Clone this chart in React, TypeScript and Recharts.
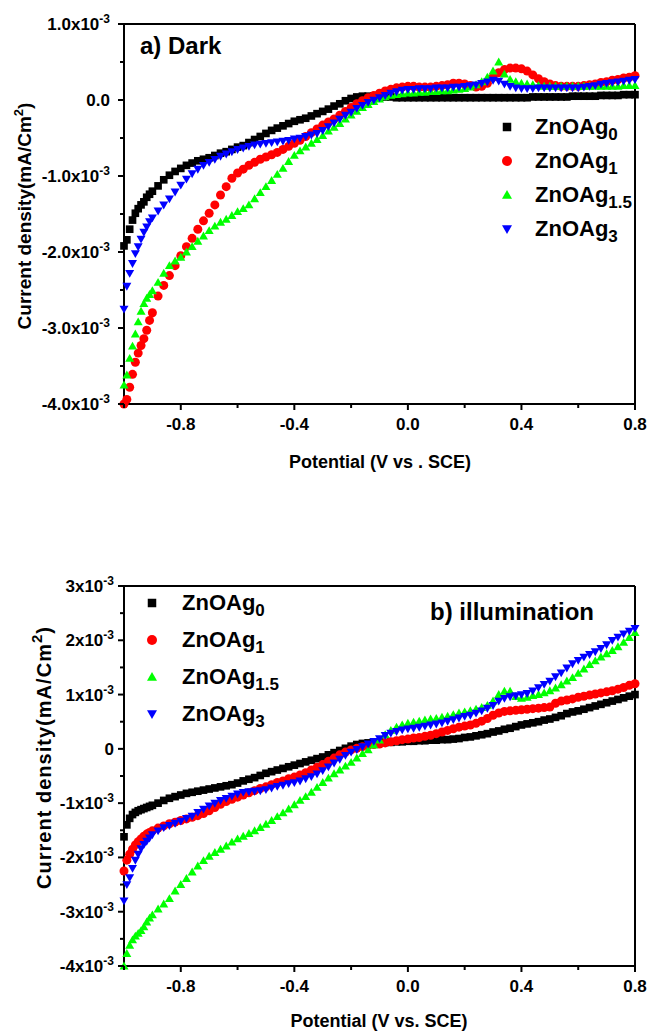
import React from 'react';
import { ScatterChart, Scatter, XAxis, YAxis, Legend } from 'recharts';

const FONT = '"Liberation Sans", Arial, Helvetica, sans-serif';

// potential (V vs SCE), shared by every curve
const potential = [
  -1.0, -0.99, -0.98, -0.97, -0.96, -0.95, -0.94, -0.93, -0.92, -0.91, -0.9,
  -0.88, -0.86, -0.84, -0.82, -0.8, -0.78, -0.76, -0.74, -0.72, -0.7,
  -0.68, -0.66, -0.64, -0.62, -0.6, -0.58, -0.56, -0.54, -0.52, -0.5,
  -0.48, -0.46, -0.44, -0.42, -0.4, -0.38, -0.36, -0.34, -0.32, -0.3,
  -0.28, -0.26, -0.24, -0.22, -0.2, -0.18, -0.16, -0.14, -0.12, -0.1,
  -0.08, -0.06, -0.04, -0.02, 0.0, 0.02, 0.04, 0.06, 0.08, 0.1,
  0.12, 0.14, 0.16, 0.18, 0.2, 0.22, 0.24, 0.26, 0.28, 0.3,
  0.32, 0.34, 0.36, 0.38, 0.4, 0.42, 0.44, 0.46, 0.48, 0.5,
  0.52, 0.54, 0.56, 0.58, 0.6, 0.62, 0.64, 0.66, 0.68, 0.7,
  0.72, 0.74, 0.76, 0.78, 0.8,
];

// a) dark, current density in units of 1e-3 mA/cm2
const darkZnOAg0 = [
  -1.92, -1.84, -1.7, -1.58, -1.49, -1.43, -1.38, -1.34, -1.28, -1.24, -1.2,
  -1.13, -1.05, -0.99, -0.94, -0.9, -0.86, -0.83, -0.8, -0.78, -0.76,
  -0.73, -0.7, -0.68, -0.65, -0.62, -0.6, -0.56, -0.52, -0.48, -0.44,
  -0.4, -0.37, -0.34, -0.31, -0.28, -0.26, -0.24, -0.21, -0.18, -0.15,
  -0.12, -0.08, -0.05, -0.01, 0.02, 0.04, 0.05, 0.05, 0.05, 0.04,
  0.04, 0.04, 0.03, 0.03, 0.03, 0.03, 0.03, 0.03, 0.03, 0.03,
  0.03, 0.03, 0.03, 0.03, 0.03, 0.03, 0.03, 0.03, 0.03, 0.03,
  0.03, 0.03, 0.03, 0.03, 0.03, 0.03, 0.04, 0.04, 0.04, 0.04,
  0.04, 0.04, 0.04, 0.05, 0.05, 0.05, 0.05, 0.05, 0.06, 0.06,
  0.06, 0.06, 0.07, 0.07, 0.07,
];
const darkZnOAg1 = [
  -4.0, -3.94, -3.78, -3.61, -3.45, -3.33, -3.23, -3.14, -3.03, -2.9, -2.8,
  -2.58, -2.44, -2.31, -2.18, -2.05, -1.93, -1.82, -1.7, -1.59, -1.49,
  -1.38, -1.25, -1.14, -1.03, -0.96, -0.91, -0.86, -0.82, -0.78, -0.75,
  -0.72, -0.69, -0.65, -0.61, -0.57, -0.53, -0.48, -0.43, -0.38, -0.33,
  -0.29, -0.25, -0.2, -0.15, -0.1, -0.05, -0.01, 0.03, 0.06, 0.09,
  0.12, 0.14, 0.16, 0.17, 0.18, 0.18, 0.17, 0.17, 0.17, 0.18,
  0.19, 0.2, 0.22, 0.22, 0.21, 0.19, 0.17, 0.18, 0.22, 0.3,
  0.36, 0.4, 0.42, 0.42, 0.41, 0.38, 0.33, 0.28, 0.24, 0.21,
  0.19, 0.18, 0.18, 0.18, 0.18, 0.19, 0.2, 0.21, 0.23, 0.24,
  0.26, 0.27, 0.29, 0.3, 0.32,
];
const darkZnOAg15 = [
  -3.75, -3.62, -3.4, -3.24, -3.08, -2.92, -2.78, -2.68, -2.61, -2.56, -2.51,
  -2.4, -2.28, -2.18, -2.12, -2.07, -2.0, -1.93, -1.86, -1.79, -1.72,
  -1.66, -1.61, -1.57, -1.52, -1.47, -1.43, -1.38, -1.3, -1.22, -1.14,
  -1.06, -0.98, -0.9, -0.81, -0.73, -0.67, -0.62, -0.57, -0.52, -0.47,
  -0.41, -0.36, -0.31, -0.25, -0.2, -0.15, -0.1, -0.06, -0.02, 0.01,
  0.04, 0.06, 0.07, 0.08, 0.09, 0.09, 0.1, 0.1, 0.11, 0.11,
  0.12, 0.12, 0.13, 0.14, 0.15, 0.17, 0.2, 0.24, 0.3, 0.38,
  0.5, 0.34, 0.27, 0.24, 0.22, 0.21, 0.2, 0.19, 0.18, 0.18,
  0.18, 0.18, 0.18, 0.18, 0.18, 0.18, 0.18, 0.18, 0.18, 0.18,
  0.18, 0.18, 0.19, 0.19, 0.19,
];
const darkZnOAg3 = [
  -2.75, -2.45, -2.28, -2.15, -2.02, -1.93, -1.83, -1.74, -1.67, -1.6, -1.55,
  -1.46, -1.38, -1.3, -1.21, -1.12, -1.04, -0.97, -0.91, -0.86, -0.82,
  -0.78, -0.74, -0.71, -0.68, -0.65, -0.63, -0.61, -0.59, -0.58, -0.57,
  -0.56, -0.55, -0.54, -0.53, -0.51, -0.5, -0.48, -0.46, -0.44, -0.4,
  -0.35, -0.3, -0.25, -0.2, -0.16, -0.11, -0.07, -0.03, 0.0, 0.03,
  0.06, 0.09, 0.11, 0.13, 0.14, 0.14, 0.15, 0.15, 0.15, 0.16,
  0.16, 0.16, 0.17, 0.17, 0.18, 0.19, 0.2, 0.22, 0.24, 0.26,
  0.25, 0.21, 0.18, 0.16, 0.15, 0.15, 0.15, 0.16, 0.16, 0.16,
  0.16, 0.16, 0.16, 0.16, 0.16, 0.17, 0.18, 0.19, 0.21, 0.22,
  0.23, 0.24, 0.25, 0.26, 0.27,
];

// b) illumination
const lightZnOAg0 = [
  -1.62, -1.4, -1.28, -1.21, -1.17, -1.14, -1.12, -1.1, -1.08, -1.06, -1.04,
  -1.0, -0.95, -0.91, -0.88, -0.85, -0.82, -0.8, -0.78, -0.76, -0.74,
  -0.72, -0.7, -0.68, -0.66, -0.63, -0.59, -0.56, -0.53, -0.49, -0.45,
  -0.42, -0.39, -0.36, -0.33, -0.3, -0.27, -0.24, -0.21, -0.18, -0.15,
  -0.11, -0.07, -0.03, 0.01, 0.05, 0.08, 0.1, 0.11, 0.11, 0.12,
  0.12, 0.12, 0.13, 0.13, 0.14, 0.14, 0.15, 0.15, 0.16, 0.16,
  0.17, 0.17, 0.18, 0.19, 0.21, 0.22, 0.24, 0.26, 0.28, 0.31,
  0.33, 0.36, 0.38, 0.41, 0.44, 0.46, 0.48, 0.5, 0.53, 0.55,
  0.58, 0.61, 0.65, 0.68, 0.7, 0.73, 0.76, 0.79, 0.82, 0.85,
  0.88, 0.91, 0.94, 0.97, 1.0,
];
const lightZnOAg1 = [
  -2.25, -2.05, -1.94, -1.85, -1.77, -1.71, -1.66, -1.61, -1.57, -1.54, -1.51,
  -1.46, -1.42, -1.38, -1.35, -1.32, -1.29, -1.26, -1.23, -1.19, -1.14,
  -1.08, -1.02, -0.97, -0.93, -0.89, -0.85, -0.81, -0.77, -0.73, -0.7,
  -0.66, -0.62, -0.59, -0.55, -0.52, -0.48, -0.44, -0.39, -0.34, -0.29,
  -0.23, -0.17, -0.11, -0.06, -0.02, 0.01, 0.04, 0.06, 0.08, 0.09,
  0.11, 0.13, 0.15, 0.17, 0.18, 0.2, 0.21, 0.23, 0.25, 0.28,
  0.31, 0.34, 0.37, 0.4, 0.42, 0.44, 0.47, 0.51, 0.56, 0.62,
  0.66, 0.69, 0.7, 0.71, 0.72, 0.73, 0.74, 0.75, 0.76, 0.77,
  0.84, 0.88, 0.9, 0.92, 0.95, 0.97, 0.99, 1.01, 1.03, 1.05,
  1.07, 1.1, 1.13, 1.17, 1.2,
];
const lightZnOAg15 = [
  -4.0, -3.77, -3.62, -3.52, -3.45, -3.4, -3.35, -3.28, -3.19, -3.12, -3.06,
  -2.95, -2.86, -2.76, -2.62, -2.5, -2.39, -2.27, -2.16, -2.06, -1.98,
  -1.91, -1.85, -1.79, -1.72, -1.66, -1.61, -1.56, -1.51, -1.45, -1.39,
  -1.32, -1.25, -1.18, -1.11, -1.03, -0.95, -0.88, -0.8, -0.71, -0.62,
  -0.54, -0.46, -0.39, -0.32, -0.25, -0.17, -0.09, -0.02, 0.07, 0.16,
  0.26, 0.34, 0.4, 0.44, 0.47, 0.49, 0.51, 0.53, 0.55, 0.56,
  0.58, 0.6, 0.63, 0.66, 0.68, 0.7, 0.73, 0.76, 0.8, 0.88,
  1.0, 1.06, 1.06, 0.96, 0.93, 0.95, 0.98, 1.0, 1.03, 1.07,
  1.12, 1.18, 1.25, 1.31, 1.39, 1.47, 1.55, 1.62, 1.69, 1.75,
  1.81, 1.88, 1.96, 2.05, 2.14,
];
const lightZnOAg3 = [
  -2.8, -2.5, -2.37, -2.2, -2.05, -1.94, -1.84, -1.76, -1.7, -1.64, -1.58,
  -1.51, -1.45, -1.41, -1.37, -1.33, -1.28, -1.24, -1.17, -1.11, -1.05,
  -1.0, -0.95, -0.91, -0.87, -0.83, -0.8, -0.79, -0.78, -0.77, -0.75,
  -0.72, -0.69, -0.67, -0.64, -0.62, -0.59, -0.55, -0.51, -0.46, -0.4,
  -0.33, -0.26, -0.19, -0.12, -0.06, -0.01, 0.04, 0.09, 0.14, 0.19,
  0.25, 0.29, 0.32, 0.35, 0.37, 0.38, 0.4, 0.42, 0.44, 0.46,
  0.48, 0.51, 0.54, 0.57, 0.6, 0.62, 0.66, 0.7, 0.75, 0.8,
  0.88, 0.93, 0.96, 0.98, 1.0, 1.02, 1.07, 1.13, 1.19, 1.25,
  1.33, 1.4, 1.49, 1.57, 1.63, 1.69, 1.74, 1.79, 1.85, 1.92,
  2.0, 2.06, 2.12, 2.17, 2.22,
];

const xTicks = [-1.0, -0.8, -0.6, -0.4, -0.2, 0, 0.2, 0.4, 0.6, 0.8];
const darkYTicks = [-4, -3.5, -3, -2.5, -2, -1.5, -1, -0.5, 0, 0.5, 1];
const lightYTicks = [-4, -3.5, -3, -2.5, -2, -1.5, -1, -0.5, 0, 0.5, 1, 1.5, 2, 2.5, 3];

const seriesSubs = ['0', '1', '1.5', '3'];
const seriesColors = ['#000000', '#ff0000', '#00ff00', '#0000ff'];
const seriesShapes = ['square', 'circle', 'up', 'down'];

const Marker = ({ kind, cx, cy, color, s }: any) => {
  if (cx == null || cy == null) return null;
  const h = s / 2;
  if (kind === 'square') return <rect x={cx - h * 0.85} y={cy - h * 0.85} width={s * 0.85} height={s * 0.85} fill={color} />;
  if (kind === 'circle') return <circle cx={cx} cy={cy} r={h} fill={color} />;
  if (kind === 'up')
    return <polygon points={`${cx},${cy - h} ${cx - h},${cy + h * 0.75} ${cx + h},${cy + h * 0.75}`} fill={color} />;
  return <polygon points={`${cx},${cy + h} ${cx - h},${cy - h * 0.75} ${cx + h},${cy - h * 0.75}`} fill={color} />;
};

const XTick = ({ x, y, payload }: any) => {
  const v = payload.value;
  const k = Math.round(v * 10);
  const major = k % 4 === 0 && k !== -10;
  return (
    <g>
      <line x1={x} y1={y} x2={x} y2={y + (major ? 6 : 4)} stroke="#000" strokeWidth={2} />
      {major && (
        <text x={x} y={y + 26} textAnchor="middle" fontFamily={FONT} fontWeight="bold" fontSize={17} fill="#000">
          {v.toFixed(1)}
        </text>
      )}
    </g>
  );
};

const TopTick = ({ x, y, payload }: any) => {
  const k = Math.round(payload.value * 10);
  return <line x1={x} y1={y} x2={x} y2={y - (k % 4 === 0 ? 3 : 2)} stroke="#000" strokeWidth={2} />;
};

const makeYTick = (zeroLabel: string, digits: number, gap: number) => ({ x, y, payload }: any) => {
  const v = payload.value;
  const major = Number.isInteger(v);
  return (
    <g>
      <line x1={x} y1={y} x2={x - (major ? 6 : 4)} y2={y} stroke="#000" strokeWidth={2} />
      {major && (
        <text x={x - gap} y={y} dy="0.35em" textAnchor="end" fontFamily={FONT} fontWeight="bold" fontSize={17} fill="#000">
          {v === 0 ? zeroLabel : (
            <>
              {v.toFixed(digits)}x10<tspan dy={-7} fontSize={12}>-3</tspan>
            </>
          )}
        </text>
      )}
    </g>
  );
};

const LegendBox = ({ rowH, textGap }: { rowH: number; textGap: number }) => (
  <div style={{ fontFamily: FONT, fontWeight: 'bold', fontSize: 22, color: '#000' }}>
    {seriesSubs.map((sub, i) => (
      <div key={sub} style={{ display: 'flex', alignItems: 'center', height: rowH, whiteSpace: 'nowrap' }}>
        <svg width={20} height={20} style={{ display: 'block' }}>
          <Marker kind={seriesShapes[i]} cx={10} cy={10} color={seriesColors[i]} s={10} />
        </svg>
        <span style={{ marginLeft: textGap }}>
          ZnOAg<span style={{ fontSize: 17, position: 'relative', top: 6 }}>{sub}</span>
        </span>
      </div>
    ))}
  </div>
);

interface PanelProps {
  height: number;
  margin: { top: number; right: number; bottom: number; left: number };
  yDomain: [number, number];
  yTicks: number[];
  yTick: (p: any) => React.ReactElement;
  values: number[][];
  legendStyle: React.CSSProperties;
  rowH: number;
  textGap: number;
}

// axes are 1px thick boxes (recharts skips drawing a 0-size axis), margins carry the rest
const Panel = ({ height, margin, yDomain, yTicks, yTick, values, legendStyle, rowH, textGap }: PanelProps) => (
  <ScatterChart width={651} height={height} margin={margin}>
    <XAxis
      type="number"
      dataKey="x"
      domain={[-1.0, 0.8]}
      ticks={xTicks}
      interval={0}
      height={1}
      tickSize={0}
      tickMargin={0}
      tickLine={false}
      axisLine={{ stroke: '#000', strokeWidth: 2 }}
      tick={(p: any) => <XTick {...p} />}
    />
    <XAxis
      xAxisId="top"
      orientation="top"
      type="number"
      domain={[-1.0, 0.8]}
      ticks={xTicks}
      interval={0}
      height={1}
      tickSize={0}
      tickMargin={0}
      tickLine={false}
      axisLine={{ stroke: '#000', strokeWidth: 2 }}
      tick={(p: any) => <TopTick {...p} />}
    />
    <YAxis
      type="number"
      dataKey="y"
      domain={yDomain}
      ticks={yTicks}
      interval={0}
      width={1}
      tickSize={0}
      tickMargin={0}
      tickLine={false}
      axisLine={{ stroke: '#000', strokeWidth: 2 }}
      tick={yTick}
    />
    <YAxis
      yAxisId="right"
      orientation="right"
      type="number"
      domain={yDomain}
      ticks={yTicks}
      width={1}
      tickSize={0}
      tick={() => <g />}
      tickLine={false}
      axisLine={{ stroke: '#000', strokeWidth: 2 }}
    />
    {values.map((ys, i) => (
      <Scatter
        key={seriesSubs[i]}
        name={`ZnOAg${seriesSubs[i]}`}
        data={potential.map((x, j) => ({ x, y: ys[j] }))}
        fill={seriesColors[i]}
        isAnimationActive={false}
        shape={(p: any) => <Marker kind={seriesShapes[i]} cx={p.cx} cy={p.cy} color={seriesColors[i]} s={9} />}
      />
    ))}
    <Legend
      layout="vertical"
      align="center"
      verticalAlign="middle"
      wrapperStyle={{ width: 'auto', height: 'auto', right: 'auto', bottom: 'auto', ...legendStyle }}
      content={() => <LegendBox rowH={rowH} textGap={textGap} />}
    />
  </ScatterChart>
);

const App = () => (
  <div style={{ position: 'absolute', left: 0, top: 0, width: 651, height: 1032, background: '#fff' }}>
    <div style={{ position: 'absolute', left: 0, top: 0 }}>
      <Panel
        height={480}
        margin={{ top: 23, right: 15, bottom: 75, left: 123 }}
        yDomain={[-4, 1]}
        yTicks={darkYTicks}
        yTick={makeYTick('0.0', 1, 14)}
        values={[darkZnOAg0, darkZnOAg1, darkZnOAg15, darkZnOAg3]}
        legendStyle={{ left: 497, top: 110 }}
        rowH={34}
        textGap={18}
      />
    </div>
    <div style={{ position: 'absolute', left: 0, top: 560 }}>
      <Panel
        height={472}
        margin={{ top: 25, right: 15, bottom: 65, left: 123 }}
        yDomain={[-4, 3]}
        yTicks={lightYTicks}
        yTick={makeYTick('0', 0, 10)}
        values={[lightZnOAg0, lightZnOAg1, lightZnOAg15, lightZnOAg3]}
        legendStyle={{ left: 142, top: 24 }}
        rowH={37}
        textGap={20}
      />
    </div>
    <svg width={651} height={1032} style={{ position: 'absolute', left: 0, top: 0, pointerEvents: 'none' }}>
      <g fontFamily={FONT} fontWeight="bold" fill="#000">
        <text x={140} y={54} fontSize={24}>a) Dark</text>
        <text x={430} y={620} fontSize={24}>b) illumination</text>
        <text x={380} y={468} fontSize={18} textAnchor="middle">Potential (V vs . SCE)</text>
        <text x={379} y={1027} fontSize={18} textAnchor="middle">Potential (V vs. SCE)</text>
        <text x={31} y={216} fontSize={19} textAnchor="middle" transform="rotate(-90, 31, 216)">
          Current density(mA/Cm<tspan dy={-8} fontSize={13}>2</tspan><tspan dy={8}>)</tspan>
        </text>
        <text
          x={51}
          y={758}
          fontSize={20}
          textAnchor="middle"
          textLength={262}
          lengthAdjust="spacing"
          transform="rotate(-90, 51, 758)"
        >
          Current density(mA/Cm<tspan dy={-9} fontSize={15}>2</tspan><tspan dy={9}>)</tspan>
        </text>
      </g>
    </svg>
  </div>
);

export default App;
